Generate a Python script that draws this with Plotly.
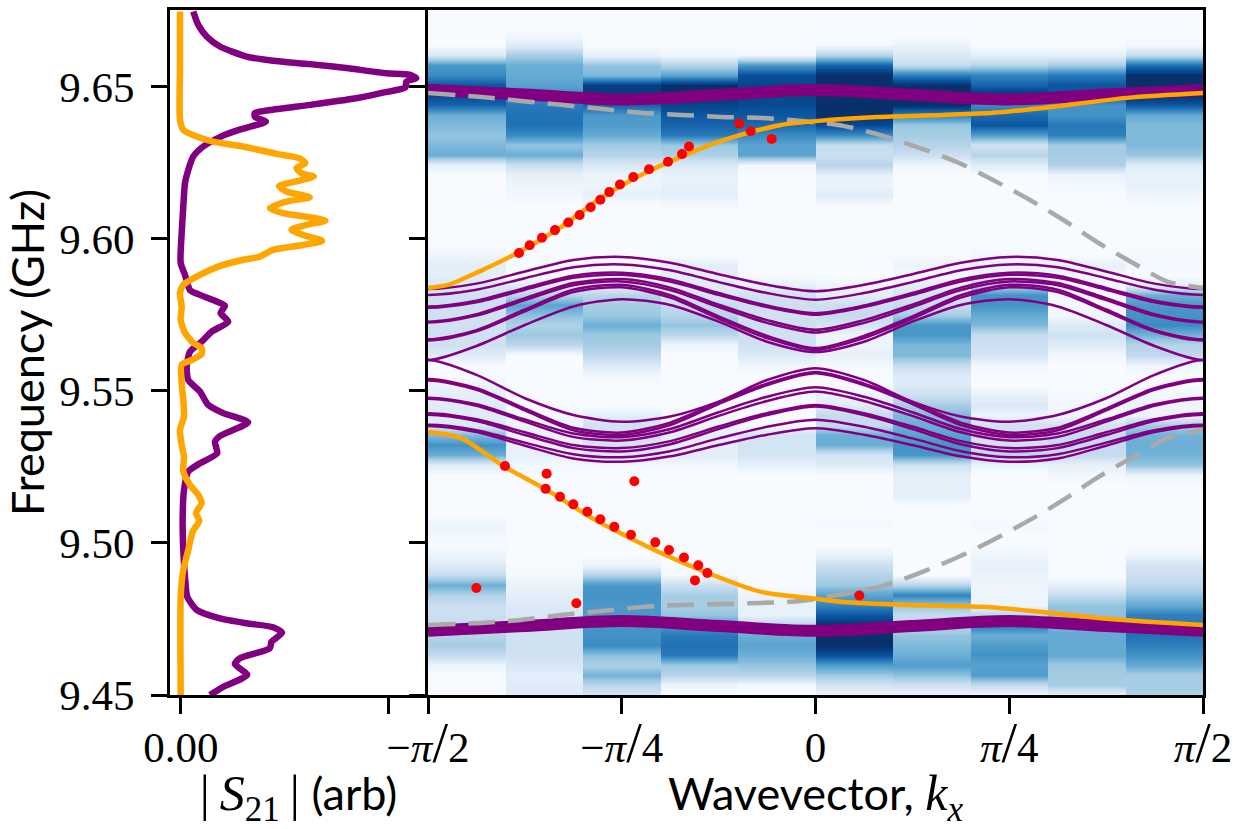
import numpy as np
import plotly.graph_objects as go

W, H = 1247, 829
PI = np.pi

# ---- left panel |S21| curves (arb, GHz)
s21_purple_f = [9.6748,9.6704,9.6666,9.6633,9.6600,9.6586,9.6575,9.6562,9.6545,9.6540,9.6529,9.6517,9.6499,9.6479,9.6461,9.6441,9.6424,9.6414,9.6402,9.6386,9.6375,9.6356,9.6335,9.6304,9.6271,9.6227,9.6184,9.6106,9.6020,9.5921,9.5882,9.5832,9.5816,9.5794,9.5780,9.5756,9.5728,9.5695,9.5662,9.5629,9.5580,9.5536,9.5498,9.5454,9.5427,9.5397,9.5352,9.5333,9.5295,9.5262,9.5235,9.5174,9.5087,9.4977,9.4889,9.4823,9.4780,9.4752,9.4736,9.4723,9.4705,9.4675,9.4654,9.4621,9.4602,9.4566,9.4527,9.4500]
s21_purple_a = [.0123,.0173,.0257,.0390,.0657,.0923,.1290,.1657,.2057,.2290,.2357,.2257,.2250,.1990,.1723,.1290,.0890,.0740,.0740,.0850,.0757,.0557,.0390,.0223,.0123,.0073,.0040,.0023,.0007,-.0003,.0040,.0090,.0190,.0357,.0440,.0397,.0473,.0307,.0207,.0090,.0057,.0073,.0190,.0273,.0423,.0673,.0390,.0340,.0363,.0190,.0073,.0030,.0017,.0023,.0040,.0063,.0157,.0390,.0657,.0923,.1013,.0907,.0890,.0590,.0540,.0663,.0423,.0290]
s21_orange_f = [9.6748,9.6567,9.6391,9.6359,9.6337,9.6320,9.6304,9.6280,9.6265,9.6249,9.6233,9.6216,9.6205,9.6192,9.6174,9.6156,9.6137,9.6123,9.6101,9.6085,9.6073,9.6060,9.6046,9.6030,9.6013,9.5994,9.5980,9.5964,9.5942,9.5929,9.5909,9.5882,9.5849,9.5822,9.5777,9.5734,9.5691,9.5658,9.5641,9.5622,9.5604,9.5586,9.5526,9.5470,9.5416,9.5372,9.5322,9.5284,9.5235,9.5191,9.5158,9.5131,9.5098,9.5073,9.5037,9.4977,9.4911,9.4823,9.4507,9.4500]
s21_orange_a = [-.0010,-.0010,-.0010,.0023,.0157,.0323,.0623,.0957,.1190,.1247,.1157,.1207,.1330,.1190,.0983,.1057,.1290,.1057,.0890,.1023,.1257,.1447,.1257,.1107,.1223,.1413,.1223,.0923,.0790,.0590,.0373,.0190,.0023,-.0010,.0007,-.0003,.0040,.0123,.0207,.0207,.0123,.0007,.0007,.0023,.0030,-.0010,.0007,.0030,.0023,.0090,.0173,.0207,.0150,.0183,.0117,.0073,.0023,-.0003,-.0003,-.0003]

# ---- right panel: heat map, one list per wavevector column, top row first (0-100)
col_1 = [0,0,0,0,15,60,65,85,90,80, 50,45,40,45,50,8,0,0,0,0, 0,0,0,0,5,10,10,15,20,22, 20,20,20,20,12,0,0,6,10,12, 12,15,45,62,50,12,0,0,0,0, 0,6,3,0,6,12,25,50,32,22, 22,25,30,35,25,6,0,0,0]
col_2 = [0,0,2,12,35,50,52,55,65,72, 75,75,65,40,50,22,8,5,3,0, 0,0,0,0,0,0,0,12,30,55, 42,32,38,28,0,0,0,0,0,0, 3,6,8,8,8,3,0,0,0,0, 0,0,0,0,0,0,2,6,10,14, 15,18,20,20,20,16,10,12,12]
col_3 = [0,0,0,0,8,40,45,95,95,80, 60,58,52,36,30,15,6,5,8,0, 0,0,0,0,0,2,2,8,30,35, 38,50,38,35,28,14,4,0,0,0, 10,20,20,18,15,3,0,0,0,0, 0,0,0,0,0,6,32,60,62,60, 60,62,62,65,42,33,48,28,18]
col_4 = [0,0,0,0,4,30,55,100,100,92, 85,80,72,38,33,14,8,8,10,2, 0,0,0,0,0,10,10,12,16,25, 30,40,28,5,0,0,0,0,0,0, 2,6,10,10,10,3,0,0,0,0, 0,0,0,0,0,0,2,22,35,35, 40,60,72,75,72,38,30,6,0]
col_5 = [0,0,0,0,3,60,88,92,92,90, 85,78,65,55,55,3,0,0,0,0, 0,0,0,0,0,0,0,8,20,22, 20,22,20,20,14,4,0,0,0,0, 0,0,18,18,18,8,0,0,0,0, 0,0,0,0,0,0,0,0,6,8, 8,30,50,55,50,40,30,2,0]
col_6 = [0,0,0,2,30,80,100,100,100,100, 100,90,65,25,22,30,8,6,12,0, 0,0,0,0,0,0,0,5,10,22, 25,18,5,6,8,2,0,0,6,12, 25,25,50,50,18,12,0,0,0,0, 0,2,0,0,8,22,30,38,55,68, 85,100,100,100,88,58,38,18,5]
col_7 = [0,0,0,6,14,25,70,100,100,100, 70,38,35,30,22,4,0,0,0,0, 0,0,0,0,0,6,2,10,18,25, 35,60,60,46,45,25,13,13,22,35, 45,50,55,62,60,20,10,8,10,0, 0,0,0,0,0,0,0,30,68,40, 25,30,40,45,50,58,42,20,5]
col_8 = [0,0,0,0,10,30,68,80,100,65, 78,85,58,20,30,12,0,0,0,0, 0,0,0,0,3,8,5,30,62,62, 52,45,24,20,18,4,0,0,8,15, 6,20,20,20,30,6,0,0,0,0, 0,3,0,0,5,8,6,5,5,5, 30,72,50,58,62,56,58,25,3]
col_9 = [0,0,0,0,10,35,72,85,85,62, 62,72,70,35,36,32,6,3,0,0, 0,0,0,0,0,8,3,2,2,3, 3,13,20,12,3,0,0,0,2,3, 3,20,25,25,25,8,3,0,0,0, 0,0,0,0,0,0,0,8,25,40, 42,48,52,52,52,38,36,35,8]
col_10 = [0,0,0,2,25,75,100,100,100,85, 52,45,45,45,38,12,8,8,5,0, 0,0,0,0,2,2,0,10,50,60, 62,65,48,30,27,5,0,0,4,5, 5,35,48,50,48,40,6,0,0,0, 0,0,0,0,4,18,22,28,40,52, 70,72,75,70,62,52,35,35,32]
heat_columns = [col_1,col_2,col_3,col_4,col_5,col_6,col_7,col_8,col_9,col_10]

# ---- dispersion bands, sampled every pi/16 from -pi/2 to 0 (the reference is even in k)
band_k = [i * PI / 16 for i in range(-8, 1)]
bands_upper = [
 [9.5835,9.5853,9.5893,9.5931,9.5941,9.5922,9.5884,9.5849,9.5828],
 [9.5816,9.5833,9.5871,9.5907,9.5916,9.5897,9.5858,9.5822,9.5800],
 [9.5778,9.5797,9.5839,9.5879,9.5889,9.5867,9.5822,9.5781,9.5756],
 [9.5774,9.5792,9.5833,9.5872,9.5882,9.5860,9.5816,9.5776,9.5751],
 [9.5728,9.5752,9.5805,9.5855,9.5868,9.5840,9.5784,9.5733,9.5701],
 [9.5725,9.5748,9.5799,9.5848,9.5860,9.5832,9.5776,9.5724,9.5692],
 [9.5670,9.5700,9.5768,9.5833,9.5849,9.5815,9.5745,9.5681,9.5641],
 [9.5666,9.5696,9.5762,9.5825,9.5841,9.5807,9.5738,9.5674,9.5635],
 [9.5602,9.5648,9.5717,9.5778,9.5802,9.5783,9.5728,9.5662,9.5628],
]
bands_lower = [
 [9.5602,9.5553,9.5476,9.5421,9.5399,9.5416,9.5465,9.5536,9.5575],
 [9.5539,9.5509,9.5442,9.5379,9.5363,9.5396,9.5463,9.5524,9.5562],
 [9.5534,9.5504,9.5436,9.5371,9.5355,9.5388,9.5457,9.5519,9.5558],
 [9.5478,9.5456,9.5406,9.5360,9.5348,9.5375,9.5430,9.5481,9.5512],
 [9.5474,9.5451,9.5399,9.5349,9.5337,9.5364,9.5418,9.5467,9.5498],
 [9.5427,9.5407,9.5364,9.5322,9.5312,9.5335,9.5383,9.5427,9.5454],
 [9.5422,9.5401,9.5355,9.5312,9.5301,9.5325,9.5375,9.5421,9.5449],
 [9.5389,9.5371,9.5330,9.5292,9.5282,9.5302,9.5344,9.5382,9.5405],
 [9.5385,9.5365,9.5320,9.5278,9.5267,9.5285,9.5322,9.5356,9.5377],
]
thick_k = [-PI/2, -3*PI/8, -PI/4, -PI/8, 0]
thick_top = [9.6490,9.6475,9.6459,9.6474,9.6490]
thick_bottom = [9.4711,9.4727,9.4743,9.4727,9.4711]

# ---- orange edge-state curves
orange_up_k = [-1.5708,-1.4898,-1.3681,-1.2019,-1.0317,-.8695,-.6912,-.5452,-.3952,-.2736,-.1399,.0507,.2493,.5168,.7195,.9222,1.2627,1.5708]
orange_up_f = [9.5839,9.5849,9.5891,9.5957,9.6039,9.6135,9.6217,9.6270,9.6319,9.6349,9.6375,9.6391,9.6401,9.6408,9.6415,9.6431,9.6464,9.6480]
orange_lo_k = [-1.5708,-1.4370,-1.2587,-1.0965,-.8938,-.7601,-.6263,-.4358,-.2209,-.0223,.1115,.3831,.7074,.9506,1.1938,1.5708]
orange_lo_f = [9.5366,9.5345,9.5250,9.5178,9.5076,9.5020,9.4967,9.4901,9.4839,9.4819,9.4806,9.4796,9.4789,9.4770,9.4750,9.4730]

# ---- grey dashed curves
grey_k = [-1.5708,-1.3560,-1.1938,-1.0317,-.8695,-.7074,-.5452,-.3831,-.2209,-.0588,.1115,.2736,.4236,.5736,.7195,.8695,1.0033,1.1411,1.2871,1.4289,1.5708]
grey_up_f = [9.6480,9.6467,9.6454,9.6441,9.6428,9.6415,9.6408,9.6401,9.6398,9.6388,9.6372,9.6339,9.6299,9.6253,9.6194,9.6128,9.6063,9.5990,9.5921,9.5859,9.5839]
grey_lo_f = [9.4730,9.4737,9.4747,9.4763,9.4776,9.4789,9.4796,9.4799,9.4803,9.4809,9.4832,9.4859,9.4902,9.4952,9.5010,9.5076,9.5141,9.5214,9.5283,9.5345,9.5372]

# ---- measured red points
red_k = [-1.2019,-1.1587,-1.1087,-1.0560,-1.0020,-.9560,-.9114,-.8722,-.8358,-.7925,-.7385,-.6749,-.5979,-.5412,-.5128,-.3088,-.2628,-.1777,
         -1.2587,-1.0898,-1.0938,-1.0357,-.9817,-.9249,-.8722,-.8155,-.7479,-.6493,-.5939,-.5331,-.4750,-.4385,-.4885,-.7344,-1.3749,-.9695,.1776]
red_f = [9.5954,9.5979,9.6004,9.6029,9.6054,9.6079,9.6104,9.6129,9.6154,9.6179,9.6204,9.6229,9.6254,9.6279,9.6304,9.6379,9.6354,9.6329,
         9.5253,9.5228,9.5178,9.5152,9.5127,9.5103,9.5078,9.5053,9.5027,9.5002,9.4977,9.4952,9.4927,9.4901,9.4877,9.5203,9.4852,9.4802,9.4827]

# ---- axis texts
y_ticks = [9.45, 9.50, 9.55, 9.60, 9.65]
y_labels = ["9.45", "9.50", "9.55", "9.60", "9.65"]
s21_ticks = [0, 0.208]
s21_labels = ["0.00", ""]
k_ticks = [-PI/2, -PI/4, 0, PI/4, PI/2]
SLASH = "<span style=\"font-size:56px\">/</span>"
k_labels = [f"\u2212<i>\u03c0</i>{SLASH}2", f"\u2212<i>\u03c0</i>{SLASH}4", "0", f"<i>\u03c0</i>{SLASH}4", f"<i>\u03c0</i>{SLASH}2"]

PURPLE, ORANGE, GREY, RED = "#800080", "#ffa500", "#a9a9a9", "#ff0000"
SERIF = "Liberation Serif"
SANS = "Lato"
BLUES = [[0, "#f7fbff"], [.125, "#deebf7"], [.25, "#c6dbef"], [.375, "#9ecae1"], [.5, "#6baed6"],
         [.625, "#4292c6"], [.75, "#2171b5"], [.875, "#08519c"], [1, "#08306b"]]
Y_RANGE = [9.45, 9.6753]

fig = go.Figure()

# heat map: three cells per column (two hair-thin) so the smoothing acts only along frequency
z_top = np.array(heat_columns, dtype=float).T          # rows top -> bottom
z = np.repeat(z_top[::-1], 3, axis=1)
row_f = 9.45 + 0.0032895 * np.arange(z.shape[0])
edges = np.linspace(-PI/2, PI/2, 11)
d = 0.002
x_edges = []
for a, b in zip(edges[:-1], edges[1:]):
    x_edges += [a, a + d, b - d]
x_edges.append(edges[-1])
fig.add_trace(go.Heatmap(x=x_edges, y=row_f, z=z, zmin=0, zmax=100, colorscale=BLUES,
                         zsmooth="best", showscale=False, xaxis="x2", yaxis="y2", hoverinfo="skip"))

# left panel
fig.add_trace(go.Scatter(x=s21_purple_a, y=s21_purple_f, mode="lines", xaxis="x", yaxis="y",
                         line=dict(color=PURPLE, width=6.5, shape="spline", smoothing=0.6)))
fig.add_trace(go.Scatter(x=s21_orange_a, y=s21_orange_f, mode="lines", xaxis="x", yaxis="y",
                         line=dict(color=ORANGE, width=6.5, shape="spline", smoothing=0.6)))

# bands: even and periodic in k, so continue one sample past each zone edge (clipped by the axis)
step = PI / 16
full_k = [band_k[0] - step] + band_k + [-v for v in band_k[-2::-1]] + [-band_k[0] + step]
for band in bands_upper + bands_lower:
    fig.add_trace(go.Scatter(x=full_k, y=[band[1]] + band + band[-2::-1] + [band[1]], mode="lines",
                             xaxis="x2", yaxis="y2",
                             line=dict(color=PURPLE, width=2.5, shape="spline", smoothing=0.8)))
thick_full_k = thick_k + [-v for v in thick_k[-2::-1]]
for band in (thick_top, thick_bottom):
    fig.add_trace(go.Scatter(x=thick_full_k, y=band + band[-2::-1], mode="lines", xaxis="x2", yaxis="y2",
                             line=dict(color=PURPLE, width=12, shape="spline", smoothing=1)))

for f in (grey_up_f, grey_lo_f):
    fig.add_trace(go.Scatter(x=grey_k, y=f, mode="lines", xaxis="x2", yaxis="y2",
                             line=dict(color=GREY, width=4.5, dash="27px,13px", shape="spline", smoothing=0.8)))
fig.add_trace(go.Scatter(x=orange_up_k, y=orange_up_f, mode="lines", xaxis="x2", yaxis="y2",
                         line=dict(color=ORANGE, width=4.5, shape="spline", smoothing=0.8)))
fig.add_trace(go.Scatter(x=orange_lo_k, y=orange_lo_f, mode="lines", xaxis="x2", yaxis="y2",
                         line=dict(color=ORANGE, width=4.5, shape="spline", smoothing=0.8)))
fig.add_trace(go.Scatter(x=red_k, y=red_f, mode="markers", xaxis="x2", yaxis="y2",
                         marker=dict(color=RED, size=10, line=dict(width=0))))

tick_font = dict(family=SERIF, size=43, color="black")
axis_common = dict(showgrid=False, zeroline=False, showline=True, linecolor="black", linewidth=3, automargin=False,
                   mirror=True, ticks="outside", ticklen=16, tickwidth=3, tickcolor="black", tickfont=tick_font)
title_font = dict(family=SANS, size=45, color="black")
MATH = f"font-family:{SERIF};font-size:50px"

fig.update_layout(
    width=W, height=H, margin=dict(l=0, r=0, t=0, b=0), showlegend=False,
    paper_bgcolor="white", plot_bgcolor="white",
    xaxis=dict(domain=[170/W, 427/W], range=[-0.011, 0.2465], tickmode="array", tickvals=s21_ticks,
               ticktext=s21_labels, ticklabelstandoff=-4,
               title=dict(text=f"<span style=\"{MATH}\">|\u2009<i>S</i><sub>21</sub>\u2009|</span> (arb)",
                          font=title_font, standoff=26), **axis_common),
    yaxis=dict(domain=[1-695/H, 1-10/H], range=Y_RANGE, tickmode="array", tickvals=y_ticks, ticktext=y_labels,
               ticklabelstandoff=8,
               title=dict(text="Frequency (GHz)", font=title_font, standoff=3), **axis_common),
    xaxis2=dict(domain=[428/W, 1203/W], range=[-PI/2, PI/2], tickmode="array", tickvals=k_ticks, ticktext=k_labels,
                anchor="y2", ticklabelstandoff=-4,
                title=dict(text=f"Wavevector, <span style=\"{MATH}\"><i>k</i><sub><i>x</i></sub></span>",
                           font=title_font, standoff=26), **axis_common),
    yaxis2=dict(domain=[1-695/H, 1-10/H], range=Y_RANGE, tickmode="array", tickvals=y_ticks, showticklabels=False,
                anchor="x2", **axis_common),
)

fig.write_html("out.html", config={"displayModeBar": False}, post_script="document.body.style.margin='0';")
